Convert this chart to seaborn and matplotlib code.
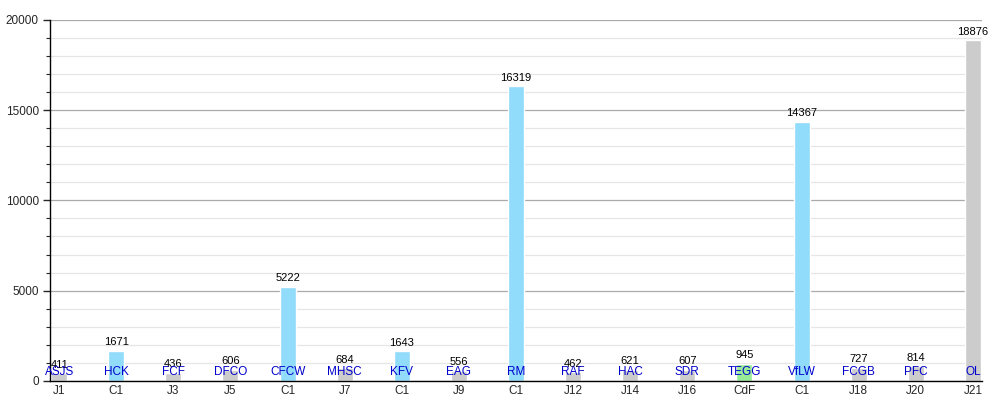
import seaborn as sns
import matplotlib.pyplot as plt
import pandas as pd
from matplotlib.ticker import MultipleLocator

rounds = ['J1', 'C1', 'J3', 'J5', 'C1', 'J7', 'C1', 'J9', 'C1', 'J12',
          'J14', 'J16', 'CdF', 'C1', 'J18', 'J20', 'J21']
teams = ['ASJS', 'HCK', 'FCF', 'DFCO', 'CFCW', 'MHSC', 'KFV', 'EAG', 'RM', 'RAF',
         'HAC', 'SDR', 'TEGG', 'VfLW', 'FCGB', 'PFC', 'OL']
values = [411, 1671, 436, 606, 5222, 684, 1643, 556, 16319, 462,
          621, 607, 945, 14367, 727, 814, 18876]
kinds = ['league', 'cup1', 'league', 'league', 'cup1', 'league', 'cup1', 'league', 'cup1', 'league',
         'league', 'league', 'cupf', 'cup1', 'league', 'league', 'league']

colors = {'league': '#cccccc', 'cup1': '#90dcfa', 'cupf': '#98ec98'}

sns.set_style('white')
plt.rcParams['font.family'] = ['Liberation Sans', 'DejaVu Sans']

df = pd.DataFrame({'pos': range(len(values)), 'value': values, 'kind': kinds})

fig, ax = plt.subplots(figsize=(10, 4), dpi=100)
fig.subplots_adjust(left=0.05, right=0.982, bottom=0.048, top=0.95)

sns.barplot(data=df, x='pos', y='value', hue='kind', palette=colors,
            width=0.28, dodge=False, legend=False, saturation=1, ax=ax, zorder=2)

ax.set_ylim(0, 20000)
ax.set_xlim(-0.16, len(values) - 1 + 0.16)
ax.yaxis.set_major_locator(MultipleLocator(5000))
ax.yaxis.set_minor_locator(MultipleLocator(1000))
ax.grid(axis='y', which='major', color='#aaaaaa', linewidth=0.9, zorder=0)
ax.grid(axis='y', which='minor', color='#e6e6e6', linewidth=0.9, zorder=0)
ax.set_axisbelow(True)

ax.set_xticks(range(len(rounds)))
ax.set_xticklabels(rounds)
ax.tick_params(axis='x', length=0, labelsize=8.5, pad=3)
ax.tick_params(axis='y', which='major', length=5, width=1, labelsize=8.5, left=True, pad=3)
ax.tick_params(axis='y', which='minor', length=3, width=0.8, left=True)

for s in ['top', 'right']:
    ax.spines[s].set_visible(False)
for s in ['left', 'bottom']:
    ax.spines[s].set_color('black')
    ax.spines[s].set_linewidth(1)

ax.set_xlabel('')
ax.set_ylabel('')

for i, (v, t) in enumerate(zip(values, teams)):
    ax.annotate(str(v), xy=(i, v), xytext=(0, 2.5), textcoords='offset points',
                ha='center', va='bottom', fontsize=8, color='black', zorder=4)
    ax.annotate(t, xy=(i, 0), xytext=(0, 6.5), textcoords='offset points',
                ha='center', va='center', fontsize=8.5, color='#0000cc', zorder=5)

plt.savefig('out.png', dpi=100)
